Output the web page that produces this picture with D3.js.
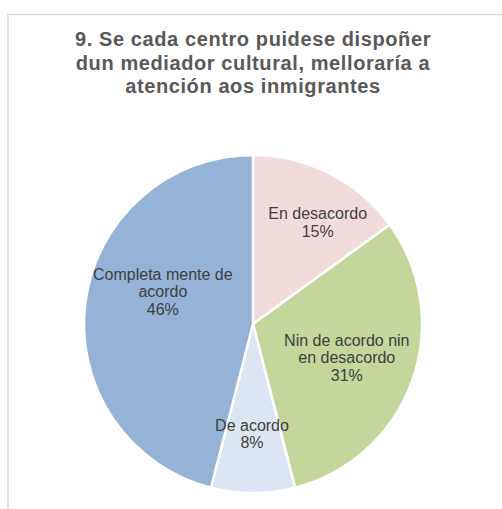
<!DOCTYPE html>
<html>
<head>
<meta charset="utf-8">
<script src="https://cdn.jsdelivr.net/npm/d3@7"></script>
<style>
  html, body { margin: 0; padding: 0; background: #fff; }
  svg { display: block; }
</style>
</head>
<body>
<svg id="chart" width="502" height="509"></svg>
<script>
// Survey answers, in clockwise order from 12 o'clock
const categories = [
  "En desacordo",
  "Nin de acordo nin en desacordo",
  "De acordo",
  "Completa mente de acordo"
];
const shares = [15, 31, 8, 46];
// Wrapped label lines for each slice
const labelLines = [
  ["En desacordo"],
  ["Nin de acordo nin", "en desacordo"],
  ["De acordo"],
  ["Completa mente de", "acordo"]
];
const titleLines = [
  "9. Se cada centro puidese dispoñer",
  "dun mediador cultural, melloraría a",
  "atención aos inmigrantes"
];

const sliceColors = ["#F2DCDB", "#C3D69B", "#DCE6F2", "#95B3D7"];
// Fine adjustment of where each label sits inside its slice
const labelNudge = [[17, -8], [-5, -2], [-1, 5], [14, -19]];

const svg = d3.select("#chart");
const W = 502, H = 509;

// Chart area frame (runs off the right and bottom edges)
svg.append("rect")
  .attr("x", 8).attr("y", 14.5)
  .attr("width", W + 10).attr("height", H + 10)
  .attr("fill", "#fff")
  .attr("stroke", "#D9D9D9")
  .attr("stroke-width", 1.5);

// Title
const title = svg.append("text")
  .attr("text-anchor", "middle")
  .attr("font-family", "Liberation Sans, Arial, sans-serif")
  .attr("font-weight", "bold")
  .attr("font-size", 20)
  .attr("letter-spacing", 0.6)
  .attr("fill", "#595959");
titleLines.forEach((t, i) => {
  title.append("tspan").attr("x", 253).attr("y", 46 + i * 23.5).text(t);
});

const cx = 253, cy = 324, r = 169;
const g = svg.append("g").attr("transform", `translate(${cx},${cy})`);

const pie = d3.pie().sort(null).value(d => d.value);
const arcs = pie(shares.map((v, i) => ({ value: v, name: categories[i], i })));

const arc = d3.arc().innerRadius(0).outerRadius(r);
const labelArc = d3.arc().innerRadius(105).outerRadius(105);

g.selectAll("path.slice")
  .data(arcs)
  .join("path")
  .attr("class", "slice")
  .attr("d", arc)
  .attr("fill", d => sliceColors[d.data.i])
  .attr("stroke", "#fff")
  .attr("stroke-width", 2.5)
  .attr("stroke-linejoin", "round");

const lineH = 17.5;
g.selectAll("text.label")
  .data(arcs)
  .join("text")
  .attr("class", "label")
  .attr("text-anchor", "middle")
  .attr("font-family", "Liberation Sans, Arial, sans-serif")
  .attr("font-size", 16)
  .attr("fill", "#404040")
  .each(function (d) {
    const [x0, y0] = labelArc.centroid(d);
    const [nx, ny] = labelNudge[d.data.i];
    const lines = labelLines[d.data.i].concat([d.data.value + "%"]);
    const x = x0 + nx;
    const top = y0 + ny - (lines.length - 1) * lineH / 2 + 5.5;
    const t = d3.select(this);
    lines.forEach((s, k) => {
      t.append("tspan").attr("x", x).attr("y", top + k * lineH).text(s);
    });
  });
</script>
</body>
</html>
